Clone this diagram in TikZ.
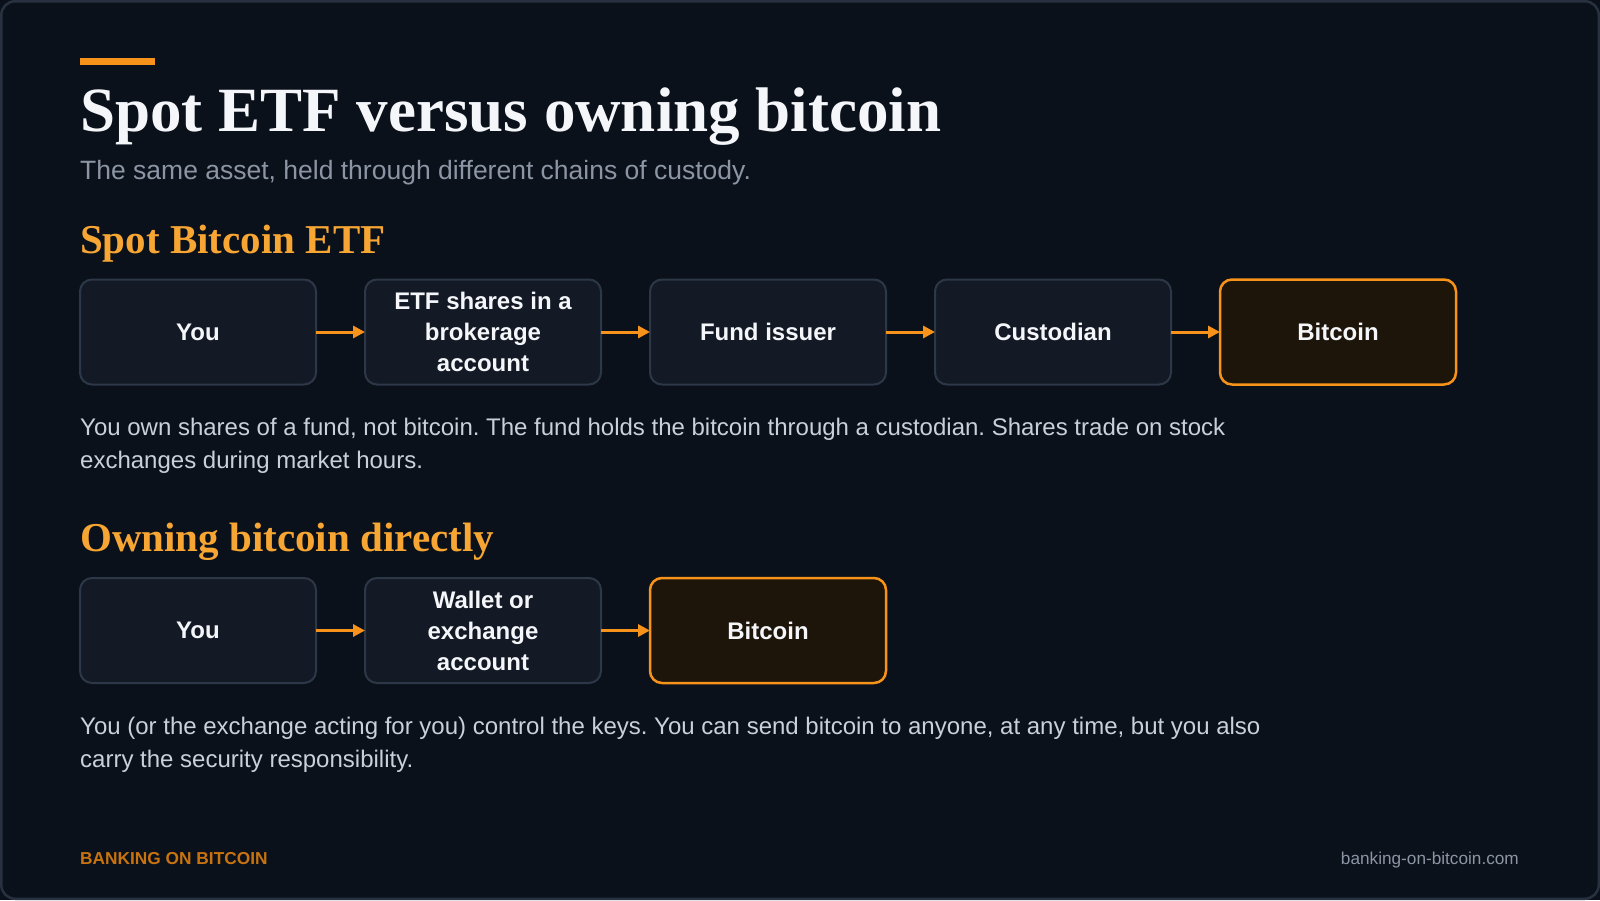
\documentclass[tikz,border=0pt]{standalone}
\usepackage{fontspec}
\setmainfont{Liberation Sans}
\newfontfamily\headserif{Liberation Serif}
\usetikzlibrary{positioning,arrows.meta}
\frenchspacing

\definecolor{bgdark}{HTML}{0B111A}
\definecolor{frameline}{HTML}{27313F}
\definecolor{boxfill}{HTML}{131A25}
\definecolor{boxline}{HTML}{2C3747}
\definecolor{coinfill}{HTML}{1D1509}
\definecolor{btcorange}{HTML}{F7931A}
\definecolor{headorange}{HTML}{F7A533}
\definecolor{footorange}{HTML}{C8730F}
\definecolor{titlewhite}{HTML}{F4F6FA}
\definecolor{subgray}{HTML}{8B95A4}
\definecolor{bodygray}{HTML}{C9D0D9}

\tikzset{
  stepbox/.style={draw=boxline, fill=boxfill, line width=2pt, rounded corners=12pt,
    minimum width=236pt, minimum height=105pt, inner sep=0pt, outer sep=0pt,
    align=center, text=titlewhite, font=\bfseries\fontsize{24}{31}\selectfont},
  coinbox/.style={stepbox, draw=btcorange, fill=coinfill, line width=2.5pt},
  flow/.style={-{Triangle[length=12pt,width=12pt]}, line width=3pt, draw=btcorange},
  heading/.style={anchor=base west, inner sep=0pt, text=headorange,
    font=\headserif\bfseries\fontsize{41}{49}\selectfont},
  para/.style={anchor=base west, inner sep=0pt, text=bodygray, align=left,
    font=\fontsize{24}{33}\selectfont},
}

\begin{document}
\begin{tikzpicture}[x=1pt, y=-1pt]
  % Canvas and frame
  \useasboundingbox (0,0) rectangle (1600,900);
  \fill[bgdark] (0,0) rectangle (1600,900);
  \draw[frameline, line width=2.5pt, rounded corners=14pt] (1.25,1.25) rectangle (1598.75,898.75);

  % Title block
  \fill[btcorange] (80,58) rectangle (155,65);
  \node[anchor=base west, inner sep=0pt, text=titlewhite,
    font=\headserif\bfseries\fontsize{63}{72}\selectfont] (title) at (80,131) {Spot ETF versus owning bitcoin};
  \node[anchor=base west, inner sep=0pt, text=subgray,
    font=\fontsize{26.5}{30}\selectfont] (subtitle) at (80,179) {The same asset, held through different chains of custody.};

  % Spot ETF chain
  \node[heading] (etfhead) at (80,253) {Spot Bitcoin ETF};
  \node[stepbox] (you1) at (198,332) {You};
  \node[stepbox, right=49pt of you1] (shares) {ETF shares in a\\brokerage\\account};
  \node[stepbox, right=49pt of shares] (issuer) {Fund issuer};
  \node[stepbox, right=49pt of issuer] (custodian) {Custodian};
  \node[coinbox, right=49pt of custodian] (coin1) {Bitcoin};
  \draw[flow] (you1) -- (shares);
  \draw[flow] (shares) -- (issuer);
  \draw[flow] (issuer) -- (custodian);
  \draw[flow] (custodian) -- (coin1);
  % base anchor sits on the last line
  \node[para] (etfnote) at (80,468) {You own shares of a fund, not bitcoin. The fund holds the bitcoin through a custodian. Shares trade on stock\\exchanges during market hours.};

  % Direct ownership chain
  \node[heading] (directhead) at (80,551) {Owning bitcoin directly};
  \node[stepbox] (you2) at (198,630.5) {You};
  \node[stepbox, right=49pt of you2] (wallet) {Wallet or\\exchange\\account};
  \node[coinbox, right=49pt of wallet] (coin2) {Bitcoin};
  \draw[flow] (you2) -- (wallet);
  \draw[flow] (wallet) -- (coin2);
  \node[para] (directnote) at (80,767) {You (or the exchange acting for you) control the keys. You can send bitcoin to anyone, at any time, but you also\\carry the security responsibility.};

  % Footer
  \node[anchor=base west, inner sep=0pt, text=footorange,
    font=\bfseries\fontsize{17.3}{20}\selectfont] (brand) at (80,864) {BANKING ON BITCOIN};
  \node[anchor=base east, inner sep=0pt, text=subgray,
    font=\fontsize{17.2}{20}\selectfont] (site) at (1519,864) {banking-on-bitcoin.com};
\end{tikzpicture}
\end{document}
